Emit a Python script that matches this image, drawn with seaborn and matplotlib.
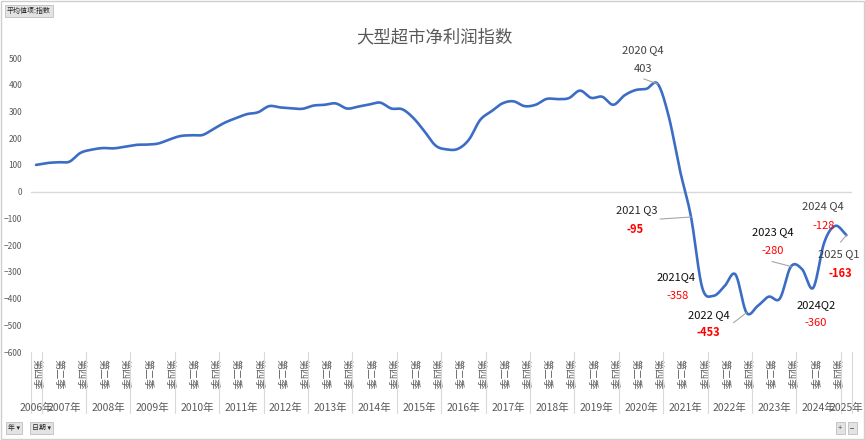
import numpy as np
import pandas as pd
import seaborn as sns
import matplotlib.pyplot as plt
from matplotlib.patches import Rectangle

# ---- data: quarterly index, 2006 Q4 .. 2025 Q1 ----
years = [2006] + [y for y in range(2007, 2025) for _ in range(4)] + [2025]
quarters = [4] + [q for _ in range(2007, 2025) for q in (1, 2, 3, 4)] + [1]
index_values = [
    100,                      # 2006
    107, 110, 112, 145,       # 2007
    157, 163, 162, 168,       # 2008
    175, 176, 180, 195,       # 2009
    208, 211, 212, 235,       # 2010
    258, 275, 290, 297,       # 2011
    320, 315, 312, 310,       # 2012
    322, 325, 330, 311,       # 2013
    318, 326, 333, 311,       # 2014
    308, 275, 225, 172,       # 2015
    158, 160, 195, 268,       # 2016
    300, 330, 338, 320,       # 2017
    325, 347, 346, 350,       # 2018
    378, 351, 355, 325,       # 2019
    360, 380, 385, 403,       # 2020
    280, 80, -95, -358,       # 2021
    -390, -355, -310, -453,   # 2022
    -428, -393, -400, -280,   # 2023
    -290, -360, -190, -128,   # 2024
    -163,                     # 2025
]
quarter_names = {1: '第一季', 2: '第二季', 3: '第三季', 4: '第四季'}

# labelled points: (name, year, quarter)
labelled = [
    ('2020 Q4', 2020, 4), ('2021 Q3', 2021, 3), ('2021Q4', 2021, 4),
    ('2022 Q4', 2022, 4), ('2023 Q4', 2023, 4), ('2024Q2', 2024, 2),
    ('2024 Q4', 2024, 4), ('2025 Q1', 2025, 1),
]

df = pd.DataFrame({'year': years, 'quarter': quarters, 'value': index_values})
df['pos'] = np.arange(len(df))

# label styling: name offset, value offset (pixels), name colour, value colour, bold, leader start
label_style = {
    '2020 Q4': ((-15, 34), (-15, 15), '#404040', '#404040', False, (-14, 5)),
    '2021 Q3': ((-54, 7), (-56, -12), '#262626', 'red', True, (-31, -2)),
    '2021Q4': ((-26, 10), (-25, -9), '#0d0d0d', 'red', False, None),
    '2022 Q4': ((-38, -2), (-38, -20), '#0d0d0d', 'red', True, (-13, -10)),
    '2023 Q4': ((-18, 34), (-18, 15), '#0d0d0d', 'red', False, (-19, 5)),
    '2024Q2': ((3, -17), (3, -35), '#0d0d0d', 'red', False, None),
    '2024 Q4': ((-12, 20), (-12, 0), '#404040', 'red', False, None),
    '2025 Q1': ((-8, -19), (-6, -38), '#404040', 'red', True, (-6, -7)),
}


def smooth(y, n=20):
    # Excel-style smoothed line (Catmull-Rom through the points)
    y = np.asarray(y, float)
    p = np.concatenate([[2 * y[0] - y[1]], y, [2 * y[-1] - y[-2]]])
    xs, ys = [], []
    t = np.linspace(0, 1, n, endpoint=False)
    for i in range(len(y) - 1):
        p0, p1, p2, p3 = p[i], p[i + 1], p[i + 2], p[i + 3]
        ys.append(0.5 * (2 * p1 + (-p0 + p2) * t + (2 * p0 - 5 * p1 + 4 * p2 - p3) * t ** 2
                         + (-p0 + 3 * p1 - 3 * p2 + p3) * t ** 3))
        xs.append(i + t)
    xs.append([len(y) - 1])
    ys.append([y[-1]])
    return np.concatenate(xs), np.concatenate(ys)


sns.set_style('white')
plt.rcParams['font.family'] = ['Noto Sans CJK SC', 'DejaVu Sans']

fig = plt.figure(figsize=(8.65, 4.4), dpi=100)
ax = fig.add_axes([30.5 / 865, 88 / 440, 821.5 / 865, 294 / 440])

sx, sy = smooth(df['value'])
sns.lineplot(x=sx, y=sy, ax=ax, color='#3C6DC5', linewidth=1.9, sort=False, estimator=None)

ax.axhline(0, color='#d9d9d9', lw=1, zorder=0)
ax.set_xlim(-0.5, len(df) - 0.5)
ax.set_ylim(-600, 500)
ax.set_yticks(range(-600, 501, 100))
ax.tick_params(axis='y', labelsize=6, colors='#595959', length=0, pad=6)
for s in ax.spines.values():
    s.set_visible(False)

# quarter labels (every other category)
tick_pos = df['pos'][::2]
ax.set_xticks(tick_pos)
ax.set_xticklabels([quarter_names[q] for q in df['quarter'][::2]], rotation=270,
                   fontsize=7.3, color='#595959')
ax.tick_params(axis='x', length=0, pad=5)
ax.set_xlabel('')
ax.set_ylabel('')

# year labels and separators
trans = ax.get_xaxis_transform()
for yr, grp in df.groupby('year'):
    ax.text(grp['pos'].mean(), -0.189, f'{yr}年', transform=trans, ha='center', va='center',
            fontsize=7.5, color='#595959')
    ax.plot([grp['pos'].min() - 0.5] * 2, [0, -0.209], transform=trans, color='#d9d9d9',
            lw=0.8, clip_on=False)
ax.plot([len(df) - 0.5] * 2, [0, -0.209], transform=trans, color='#d9d9d9', lw=0.8, clip_on=False)

# point labels
for name, yr, q in labelled:
    row = df[(df['year'] == yr) & (df['quarter'] == q)].iloc[0]
    xy = (row['pos'], row['value'])
    off_n, off_v, c_n, c_v, bold, lead = label_style[name]
    ax.annotate(name, xy=xy, xytext=off_n, textcoords='offset pixels', ha='center', va='center',
                fontsize=8, color=c_n)
    ax.annotate(f"{int(row['value'])}", xy=xy, xytext=off_v, textcoords='offset pixels',
                ha='center', va='center', fontsize=8, color=c_v,
                fontweight='bold' if bold else 'normal')
    if lead is not None:
        ax.annotate('', xy=xy, xytext=lead, textcoords='offset pixels',
                    arrowprops=dict(arrowstyle='-', color='#a6a6a6', lw=0.8, shrinkA=0, shrinkB=0))

fig.text(434 / 865, 1 - 37 / 440, '大型超市净利润指数', ha='center', va='center', fontsize=12.5,
         color='#595959')

# pivot chart buttons
btn = dict(boxstyle='square,pad=0.3', fc='#e3e3e3', ec='#b4b4b4', lw=0.5)
fig.text(7 / 865, 1 - 11 / 440, '平均值项:指数', fontsize=5, va='center', color='#262626', bbox=btn)
fig.text(8 / 865, 1 - 428 / 440, '年 ▾', fontsize=5, va='center', color='#262626', bbox=btn)
fig.text(32 / 865, 1 - 428 / 440, '日期 ▾', fontsize=5, va='center', color='#262626', bbox=btn)
fig.text(838 / 865, 1 - 428 / 440, '+', fontsize=5.5, va='center', color='#404040', bbox=btn)
fig.text(850 / 865, 1 - 428 / 440, '−', fontsize=5.5, va='center', color='#404040', bbox=btn)

fig.patches.append(Rectangle((0.5 / 865, 1.5 / 440), 863 / 865, 437 / 440, transform=fig.transFigure,
                             fill=False, ec='#cfcfcf', lw=1))

fig.savefig('out.png', dpi=100)
